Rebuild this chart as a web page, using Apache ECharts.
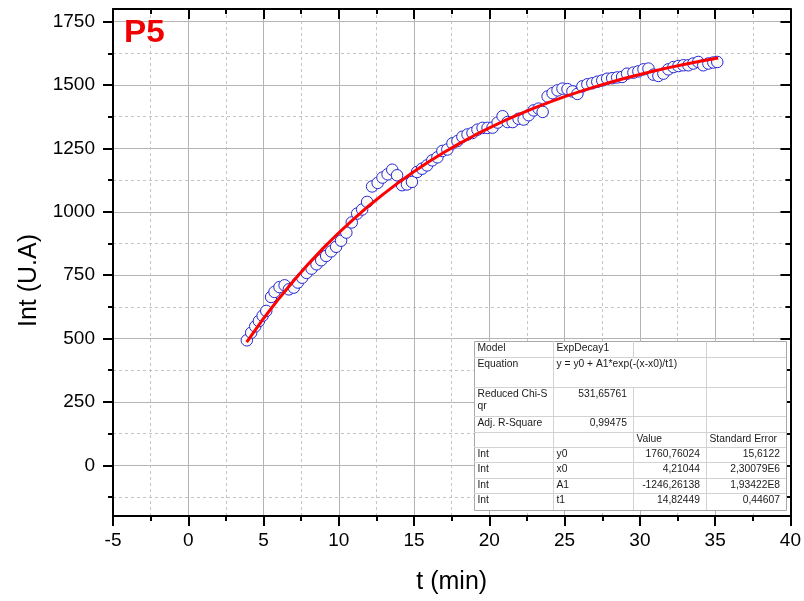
<!DOCTYPE html>
<html><head><meta charset="utf-8">
<script src="https://cdn.jsdelivr.net/npm/echarts@6/dist/echarts.min.js"></script>
<style>html,body{margin:0;padding:0;background:#fff}#c{width:804px;height:601px}</style>
</head><body><div id="c"></div>
<script>
// ---- data ----
const tValues = [3.89,4.18,4.45,4.69,4.94,5.18,5.5,5.73,6.06,6.4,6.68,7.01,7.28,7.57,7.86,8.19,8.52,8.83,9.16,9.49,
  9.82,10.15,10.5,10.86,11.22,11.55,11.88,12.21,12.58,12.9,13.24,13.55,13.87,14.2,14.53,14.86,15.2,15.53,15.86,
  16.21,16.55,16.88,17.21,17.55,17.88,18.21,18.55,18.88,19.21,19.55,19.88,20.21,20.55,20.88,21.21,21.55,
  21.94,22.28,22.61,22.94,23.27,23.54,23.87,24.2,24.53,24.86,25.19,25.52,25.85,26.18,26.51,26.84,27.17,27.5,27.83,28.16,28.49,28.82,29.15,
  29.57,29.9,30.24,30.57,30.9,31.23,31.56,31.89,32.23,32.56,32.89,33.22,33.55,33.88,34.21,34.55,34.88,35.14];
const intValues = [493,523,548,569,590,609,664,684,703,710,694,701,721,740,759,776,793,809,826,844,
  862,886,918,958,993,1009,1039,1100,1114,1135,1148,1166,1144,1105,1108,1118,1157,1170,1183,
  1203,1215,1240,1246,1270,1279,1296,1305,1311,1324,1331,1331,1332,1352,1377,1354,1354,
  1367,1364,1381,1400,1407,1394,1455,1468,1479,1486,1484,1475,1465,1495,1503,1507,1513,1518,1525,1527,1530,1532,1545,
  1549,1554,1562,1565,1541,1536,1545,1562,1571,1575,1578,1578,1585,1591,1578,1585,1589,1591];
// fitted ExpDecay1 curve, tabulated
const fitT = [3.88,5,6,7,8,9,10,11,12,13,14,15,16,17,18,19,20,21,22,23,24,25,26,27,28,29,30,31,32,33,34,35,35.2];
const fitInt = [486.1,579.2,656.2,728.3,795.6,858.6,917.4,972.4,1023.9,1071.9,1116.9,1158.9,1198.1,1234.8,1269.1,1301.2,1331.2,1359.2,1385.4,1409.9,1432.8,1454.2,1474.2,1492.9,1510.3,1526.7,1541.9,1556.2,1569.6,1582.0,1593.7,1604.6,1606.8];
const yMajorTicks = [0,250,500,750,1000,1250,1500,1750];
const yMinorTicks = [-125,125,375,625,875,1125,1375,1625];
const tableRows = [
  ['Model','ExpDecay1','',''],
  ['Equation','y = y0 + A1*exp(-(x-x0)/t1)','',''],
  ['Reduced Chi-S\nqr','531,65761','',''],
  ['Adj. R-Square','0,99475','',''],
  ['','','Value','Standard Error'],
  ['Int','y0','1760,76024','15,6122'],
  ['Int','x0','4,21044','2,30079E6'],
  ['Int','A1','-1246,26138','1,93422E8'],
  ['Int','t1','14,82449','0,44607']
];
const panelLabel = 'P5';

// ---- layout ----
const FONT = '"Liberation Sans", Arial, sans-serif';
const colX = [474, 553, 633, 706, 786];
const rowY = [341, 357, 387, 416, 432, 447, 462, 478, 493, 510];

const chart = echarts.init(document.getElementById('c'));

const graphics = [];
graphics.push({type:'rect', z:100, shape:{x:colX[0]+0.5, y:rowY[0]+0.5, width:colX[4]-colX[0], height:rowY[rowY.length-1]-rowY[0]},
  style:{fill:'#ffffff', stroke:'#a8a8a8', lineWidth:1}});
for (let r = 1; r < rowY.length-1; r++) {
  graphics.push({type:'line', z:101, shape:{x1:colX[0], y1:rowY[r]+0.5, x2:colX[4], y2:rowY[r]+0.5}, style:{stroke:'#d2d2d2', lineWidth:1}});
}
for (let c = 1; c < colX.length-1; c++) {
  for (let r = 0; r < rowY.length-1; r++) {
    if (c === 2 && r === 1) continue; // merged equation cell
    graphics.push({type:'line', z:101, shape:{x1:colX[c]+0.5, y1:rowY[r], x2:colX[c]+0.5, y2:rowY[r+1]}, style:{stroke:'#d2d2d2', lineWidth:1}});
  }
}
const isNum = s => /^-?[\d,]+(E\d+)?$/.test(s);
tableRows.forEach((row, r) => {
  row.forEach((txt, c) => {
    if (!txt) return;
    const right = isNum(txt) && c > 0;
    graphics.push({type:'text', z:102,
      x: right ? colX[c+1] - 6 : colX[c] + 3.5,
      y: rowY[r] + 1,
      style:{text:txt, fill:'#1a1a1a', fontSize:10.3, fontFamily:FONT, lineHeight:12,
        align: right ? 'right' : 'left', verticalAlign:'top'}});
  });
});
graphics.push({type:'text', z:102, x:124, y:33.5, scaleX:1.04,
  style:{text:panelLabel, fill:'#f00000', fontSize:32, fontWeight:'bold', fontFamily:FONT, align:'left', verticalAlign:'middle'}});

const axisLineStyle = {show:true, onZero:false, lineStyle:{color:'#000', width:2}};
const hiddenLine = {show:false, onZero:false};
const majorSplit = {show:true, lineStyle:{color:'#b4b4b4', width:1}};
const minorSplit = {show:true, lineStyle:{color:'#c4c4c4', width:1, type:[3,3]}};
const plain = v => String(v);

const option = {
  animation:false,
  backgroundColor:'#ffffff',
  textStyle:{fontFamily:FONT},
  grid:{left:113, right:12, top:9, bottom:85, containLabel:false},
  xAxis:[
    {type:'value', position:'bottom', min:-5, max:40, interval:5,
      name:'t (min)', nameLocation:'middle', nameGap:54,
      nameTextStyle:{fontSize:25, color:'#000', fontFamily:FONT},
      axisLine:axisLineStyle,
      axisTick:{show:true, length:10, lineStyle:{color:'#000', width:2}},
      minorTick:{show:true, splitNumber:2, length:5, lineStyle:{color:'#000', width:2}},
      axisLabel:{fontSize:19, color:'#000', margin:15, fontFamily:FONT, showMinLabel:true, showMaxLabel:true, formatter:plain},
      splitLine:majorSplit, minorSplitLine:minorSplit},
    {type:'value', position:'top', min:-5, max:40, interval:5,
      axisLine:axisLineStyle,
      axisTick:{show:true, inside:true, length:10, lineStyle:{color:'#000', width:2}},
      minorTick:{show:true, splitNumber:2, length:5, lineStyle:{color:'#000', width:2}},
      axisLabel:{show:false}, splitLine:{show:false}, minorSplitLine:{show:false}}
  ],
  yAxis:[
    {type:'value', position:'left', min:-200, max:1800,
      name:'Int (U.A)', nameLocation:'middle', nameGap:64,
      nameTextStyle:{fontSize:25, color:'#000', fontFamily:FONT, padding:[0,36,0,0]},
      axisLine:axisLineStyle,
      axisTick:{show:true, length:10, customValues:yMajorTicks, lineStyle:{color:'#000', width:2}},
      axisLabel:{fontSize:19, color:'#000', margin:18, fontFamily:FONT, customValues:yMajorTicks, formatter:plain},
      splitLine:majorSplit},
    {type:'value', position:'left', min:-200, max:1800,
      axisLine:hiddenLine,
      axisTick:{show:true, length:5, customValues:yMinorTicks, lineStyle:{color:'#000', width:2}},
      axisLabel:{show:false, customValues:yMinorTicks},
      splitLine:minorSplit},
    {type:'value', position:'right', min:-200, max:1800,
      axisLine:axisLineStyle,
      axisTick:{show:true, inside:true, length:10, customValues:yMajorTicks, lineStyle:{color:'#000', width:2}},
      axisLabel:{show:false, customValues:yMajorTicks}, splitLine:{show:false}},
    {type:'value', position:'right', min:-200, max:1800,
      axisLine:hiddenLine,
      axisTick:{show:true, inside:true, length:5, customValues:yMinorTicks, lineStyle:{color:'#000', width:2}},
      axisLabel:{show:false, customValues:yMinorTicks}, splitLine:{show:false}}
  ],
  series:[
    {type:'scatter', name:'Int', xAxisIndex:0, yAxisIndex:0, z:3,
      data:tValues.map((t,i)=>[t,intValues[i]]),
      symbol:'circle', symbolSize:11.5,
      itemStyle:{color:'#fbfbf6', borderColor:'#2626d6', borderWidth:1, opacity:1}},
    {type:'line', name:'ExpDecay1 fit', xAxisIndex:0, yAxisIndex:0, z:4,
      data:fitT.map((t,i)=>[t,fitInt[i]]),
      smooth:false, showSymbol:false, symbol:'none',
      lineStyle:{color:'#ff0000', width:3}}
  ],
  graphic:graphics
};
chart.setOption(option);
</script>
</body></html>
